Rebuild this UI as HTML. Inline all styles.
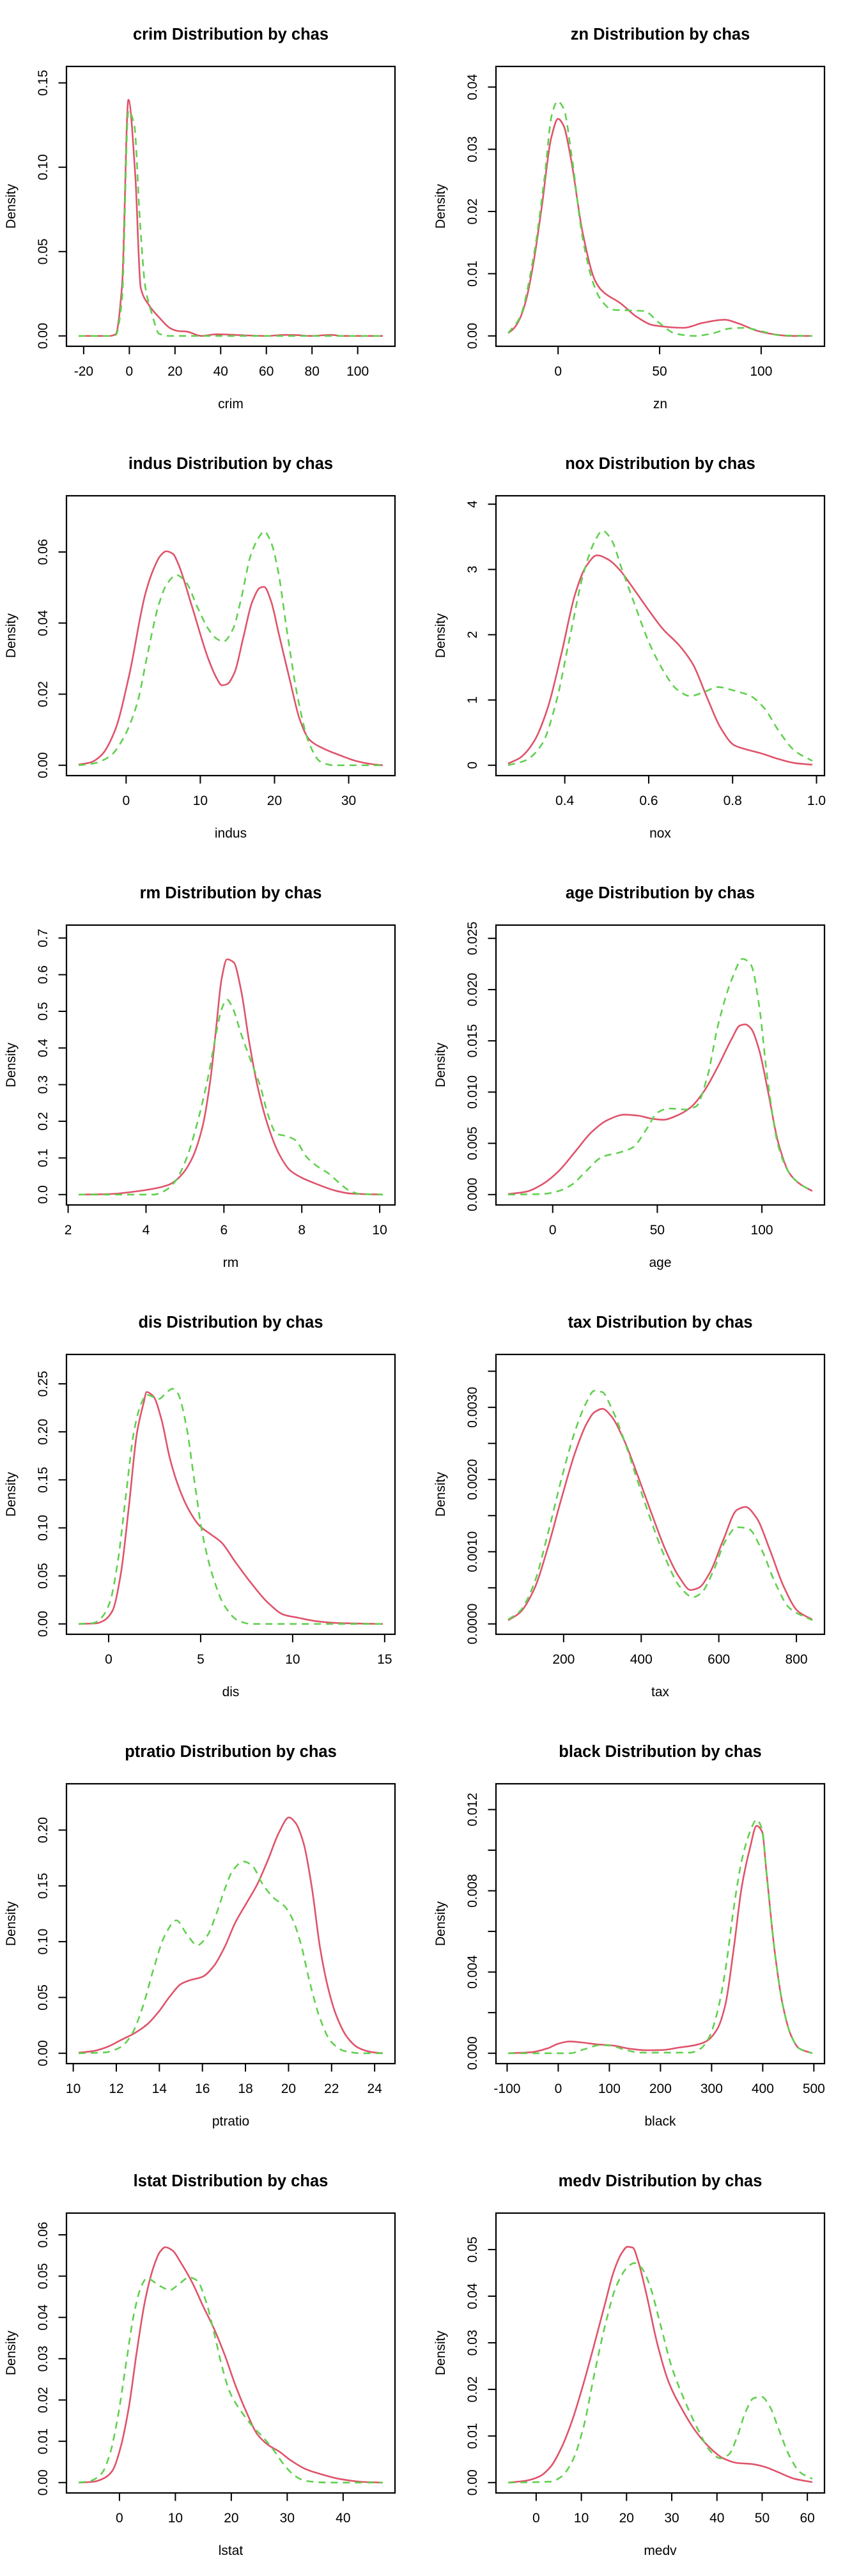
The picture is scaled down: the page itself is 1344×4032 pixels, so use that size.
<!DOCTYPE html>
<html><head><meta charset="utf-8"><title>Distributions by chas</title>
<style>html,body{margin:0;padding:0;background:#fff}svg{display:block}text{font-family:"Liberation Sans",Arial,sans-serif;fill:#000}</style>
</head><body>
<svg id="chart" xmlns="http://www.w3.org/2000/svg" width="1344" height="4032" viewBox="0 0 1344 4032"></svg>
<script>
// ---- data (x, density) ----
const crimRed=[[-22.2,0],[-8.6,0],[-6,0.001],[-3.2,0.0297],[-0.4,0.140],[2.6,0.0953],[5,0.0285],[8.2,0.019],[13,0.011],[18.4,0.0042],[21.4,0.0029],[25,0.0026],[31.6,0],[38.2,0.001],[51.4,0.0003],[60,0],[68,0.0006],[73,0.0005],[79,0],[88.6,0.0006],[93,0],[111,0]];
const crimGreen=[[-22.2,0],[-8.6,0],[-6,0.0005],[-3.2,0.022],[-0.4,0.1335],[2.2,0.1245],[4.6,0.069],[7,0.029],[10,0.0126],[13,0.0013],[17.8,0],[111,0]];
const znRed=[[-24.6,0.00044],[-21.8,0.0012],[-18.8,0.0028],[-15.5,0.0061],[-12.1,0.0118],[-8.1,0.0206],[-3.4,0.0318],[0,0.0349],[2.7,0.0338],[6.1,0.0289],[12.1,0.0166],[18.2,0.0089],[21.5,0.0073],[30.9,0.0052],[39,0.003],[47.1,0.0017],[61.9,0.0013],[71.3,0.0021],[82.1,0.0026],[88.8,0.002],[98.3,0.0008],[106.3,0.00026],[114.4,0],[125.2,0]];
const znGreen=[[-24.6,0.00044],[-18.8,0.003],[-12.1,0.0127],[-6.7,0.0254],[-3.1,0.0355],[-0.3,0.0377],[2.7,0.0366],[6.7,0.0289],[12.1,0.0157],[17.5,0.0083],[21.5,0.0056],[26.9,0.0042],[35,0.0041],[42.4,0.004],[49.8,0.0021],[57.9,0.00035],[67.3,0],[75.4,0.00035],[84.8,0.0012],[91.5,0.0013],[100.9,0.0007],[109,0.0001],[125.2,0]];
const indusRed=[[-6.4,0.0002],[-4.8,0.0008],[-3.3,0.0029],[-1.5,0.0098],[0.4,0.0252],[2.6,0.0483],[3.7,0.0552],[4.6,0.0589],[5.4,0.0602],[6.3,0.0595],[7,0.0568],[8.8,0.0452],[11.1,0.0298],[12.2,0.0245],[12.9,0.0225],[13.6,0.0228],[14.6,0.026],[15.8,0.036],[17,0.046],[18.1,0.05],[18.6,0.0502],[19.5,0.0464],[20.6,0.0368],[22.1,0.0237],[23.4,0.0129],[24.7,0.0072],[26.5,0.0048],[28.7,0.0029],[31,0.0012],[33.2,0.0003],[34.6,0]];
const indusGreen=[[-6.4,0],[-4.4,0.0005],[-2.2,0.0025],[-0.4,0.0075],[1.5,0.0175],[2.9,0.0314],[4.4,0.0452],[5.5,0.051],[6.8,0.0535],[8.1,0.0514],[9.6,0.0445],[11.1,0.0383],[12.2,0.0356],[13.1,0.0348],[14.4,0.0383],[15.5,0.0468],[16.8,0.0591],[18.1,0.0648],[18.6,0.0658],[19.5,0.0629],[20.5,0.0545],[21.7,0.0375],[23.2,0.0183],[24.7,0.006],[26.2,0.001],[28,0],[34.6,0]];
const noxRed=[[0.265,0.025],[0.294,0.117],[0.327,0.369],[0.359,0.871],[0.392,1.709],[0.425,2.63],[0.451,3.05],[0.477,3.217],[0.503,3.154],[0.529,3.007],[0.556,2.777],[0.595,2.421],[0.634,2.086],[0.673,1.835],[0.706,1.541],[0.739,1.039],[0.771,0.578],[0.804,0.306],[0.837,0.235],[0.869,0.18],[0.909,0.096],[0.948,0.034],[0.99,0.008]];
const noxGreen=[[0.265,0],[0.307,0.075],[0.346,0.327],[0.379,0.955],[0.412,1.96],[0.444,2.924],[0.471,3.426],[0.49,3.594],[0.51,3.468],[0.536,3.007],[0.569,2.421],[0.601,1.876],[0.634,1.458],[0.667,1.164],[0.699,1.06],[0.732,1.123],[0.765,1.198],[0.804,1.143],[0.843,1.06],[0.876,0.871],[0.909,0.536],[0.948,0.222],[0.99,0.067]];
const rmRed=[[2.27,0],[3.07,0.0015],[3.77,0.009],[4.33,0.019],[4.61,0.028],[4.89,0.051],[5.17,0.096],[5.45,0.185],[5.66,0.319],[5.8,0.454],[5.94,0.588],[6.08,0.642],[6.25,0.634],[6.44,0.558],[6.65,0.416],[6.86,0.297],[7.14,0.185],[7.42,0.11],[7.7,0.066],[7.98,0.047],[8.4,0.028],[8.82,0.012],[9.24,0.003],[10.08,0]];
const rmGreen=[[2.27,0],[4.19,0],[4.47,0.0097],[4.75,0.036],[5.03,0.096],[5.31,0.193],[5.59,0.319],[5.8,0.439],[5.94,0.506],[6.08,0.532],[6.22,0.51],[6.44,0.439],[6.72,0.357],[6.93,0.297],[7.14,0.215],[7.35,0.166],[7.63,0.159],[7.84,0.148],[8.12,0.103],[8.4,0.077],[8.68,0.058],[8.96,0.032],[9.24,0.0097],[9.52,0.0015],[10.08,0]];
const ageRed=[[-21.3,0.00005],[-12.9,0.00027],[-5,0.001],[2.9,0.0023],[10.8,0.0042],[18.6,0.0061],[26.5,0.0073],[34.4,0.0078],[40.9,0.0077],[47.5,0.0074],[52.8,0.0073],[59.3,0.0077],[65.9,0.0085],[72.4,0.0101],[79,0.0125],[85.6,0.0152],[89.5,0.0165],[92.1,0.0166],[94.8,0.0162],[98.7,0.0141],[102.6,0.0104],[107.9,0.005],[113.1,0.0021],[118.4,0.001],[124.1,0.00035]];
const ageGreen=[[-21.3,0],[-5,0.00005],[2.9,0.00035],[9.4,0.001],[16,0.0023],[23.9,0.0037],[31.8,0.0041],[38.3,0.0046],[44.9,0.0064],[50.1,0.008],[55.4,0.0084],[63.3,0.0083],[68.5,0.0086],[73.8,0.0114],[79,0.0165],[85.6,0.021],[90.8,0.023],[94.8,0.0224],[98.7,0.0184],[102.6,0.0114],[107.9,0.0047],[113.1,0.0021],[118.4,0.001],[124.1,0.00035]];
const disRed=[[-1.63,0],[-0.68,0.0006],[-0.24,0.0037],[0.21,0.0137],[0.65,0.0507],[1.1,0.122],[1.54,0.199],[1.9,0.23],[2.07,0.2415],[2.43,0.237],[2.87,0.213],[3.32,0.173],[3.76,0.145],[4.35,0.119],[4.95,0.102],[5.54,0.0934],[6.13,0.0849],[6.87,0.0649],[7.76,0.0421],[8.65,0.0222],[9.54,0.0094],[10.28,0.0065],[11.3,0.0028],[12.5,0.0009],[14.9,0]];
const disGreen=[[-1.63,0],[-0.83,0.0009],[-0.39,0.0065],[0.06,0.0222],[0.5,0.065],[0.95,0.136],[1.39,0.2016],[1.78,0.23],[2.07,0.2386],[2.73,0.2343],[3.17,0.2415],[3.47,0.2449],[3.76,0.24],[4.21,0.2073],[4.65,0.1503],[5.1,0.0934],[5.69,0.0478],[6.28,0.0194],[7.02,0.0037],[7.76,0],[14.9,0]];
const taxRed=[[57,0.00005],[88,0.00016],[124,0.00048],[159,0.00105],[194,0.00173],[230,0.00238],[258,0.00276],[279,0.00293],[300,0.00298],[321,0.00289],[357,0.00253],[392,0.00204],[428,0.00151],[463,0.00102],[499,0.00064],[527,0.00047],[548,0.0005],[577,0.00071],[612,0.00117],[647,0.00158],[669,0.00162],[697,0.00147],[732,0.00102],[767,0.00052],[803,0.00018],[841,0.00006]];
const taxGreen=[[57,0.00006],[88,0.00018],[124,0.00056],[159,0.00124],[194,0.002],[230,0.00268],[258,0.00306],[279,0.00323],[300,0.00321],[321,0.00302],[357,0.00253],[392,0.00196],[428,0.00139],[463,0.0009],[499,0.00052],[534,0.00037],[555,0.00043],[584,0.00071],[619,0.00117],[647,0.00134],[676,0.00132],[711,0.00102],[746,0.00056],[782,0.00022],[841,0.00005]];
const ptratioRed=[[10.25,0.0005],[10.94,0.002],[11.57,0.0056],[12.21,0.0118],[12.84,0.0179],[13.47,0.0265],[13.98,0.0375],[14.49,0.051],[15,0.062],[15.38,0.0652],[16.01,0.0686],[16.52,0.0779],[17.03,0.0951],[17.53,0.1172],[18.04,0.1343],[18.55,0.1515],[19.05,0.1735],[19.56,0.198],[20.02,0.2113],[20.32,0.2066],[20.7,0.1882],[21.08,0.149],[21.46,0.0951],[21.84,0.0583],[22.22,0.0338],[22.73,0.0142],[23.24,0.0049],[23.87,0.001],[24.38,0]];
const ptratioGreen=[[10.25,0],[11.45,0.0007],[12.21,0.0056],[12.71,0.0167],[13.22,0.0412],[13.73,0.0755],[14.24,0.1049],[14.79,0.1191],[15.25,0.1074],[15.76,0.0968],[16.21,0.1049],[16.64,0.1245],[17.03,0.1466],[17.41,0.1637],[17.91,0.1718],[18.29,0.1686],[18.8,0.1515],[19.31,0.1392],[19.81,0.1319],[20.2,0.1196],[20.58,0.0975],[20.96,0.0657],[21.46,0.0314],[21.97,0.0105],[22.6,0.002],[23.37,0],[24.38,0]];
const blackRed=[[-98,0],[-53,0.00005],[-21,0.00024],[0,0.00047],[22,0.00058],[43,0.00054],[75,0.00044],[107,0.00038],[140,0.00022],[172,0.00015],[204,0.00016],[236,0.00028],[268,0.0004],[289,0.00058],[311,0.00119],[327,0.0024],[343,0.0051],[359,0.0082],[375,0.0101],[388,0.0112],[399,0.0109],[407,0.009],[423,0.0051],[439,0.0024],[455,0.0009],[471,0.00024],[497,0]];
const blackGreen=[[-98,0],[22,0],[54,0.00022],[81,0.0004],[102,0.00038],[129,0.00018],[161,0.00003],[257,0.00003],[278,0.00022],[295,0.00078],[311,0.002],[327,0.0041],[343,0.0071],[359,0.0095],[375,0.0109],[388,0.0115],[399,0.011],[407,0.009],[423,0.0051],[439,0.0024],[455,0.0009],[471,0.00024],[497,0]];
const lstatRed=[[-7.3,0],[-4.7,0.0002],[-2.7,0.0011],[-1.3,0.0028],[0.2,0.0085],[1.7,0.0184],[3.1,0.0317],[4.6,0.0442],[6.1,0.0522],[7.2,0.0558],[8.2,0.057],[9.5,0.0562],[11,0.0532],[13,0.0485],[14.9,0.0429],[16.8,0.0376],[18.8,0.031],[20.7,0.0237],[22.7,0.0171],[24.6,0.0118],[26.6,0.0091],[28.6,0.0075],[30.5,0.0055],[33.4,0.0032],[36.4,0.0019],[39.3,0.0009],[43.2,0.0002],[47.1,0]];
const lstatGreen=[[-7.3,0],[-5.2,0.0004],[-3.2,0.0022],[-1.8,0.0065],[-0.3,0.0158],[1.2,0.029],[2.6,0.0409],[3.9,0.0475],[4.9,0.0495],[6.6,0.0482],[7.8,0.0472],[9,0.0466],[10.5,0.0479],[12.5,0.0497],[13.9,0.0489],[15.4,0.0442],[16.8,0.037],[18.3,0.0283],[19.8,0.0217],[21.7,0.0174],[23.7,0.0138],[25.6,0.0111],[27.6,0.0078],[29.5,0.0042],[31.5,0.0015],[33.4,0.0004],[37.4,0],[47.1,0]];
const medvRed=[[-6.2,0],[-2.3,0.0004],[0.7,0.0013],[3.2,0.0034],[5.6,0.0075],[8,0.0134],[10.4,0.021],[12.9,0.0298],[15.3,0.0386],[17.1,0.0451],[18.9,0.0492],[20.2,0.0506],[21.4,0.0504],[22.6,0.0474],[24.4,0.0404],[26.8,0.0298],[29.3,0.0216],[32.3,0.0157],[35.3,0.011],[38.4,0.0075],[41.4,0.0052],[44.5,0.0042],[47.5,0.004],[50.5,0.0034],[53.6,0.0022],[57.2,0.0008],[61.1,0.0001]];
const medvGreen=[[-6.2,0],[3.2,0.0002],[5.6,0.0013],[8,0.0046],[10.4,0.0116],[12.9,0.0234],[15.3,0.0339],[17.7,0.0421],[20.2,0.0462],[21.7,0.0471],[23.2,0.0462],[25,0.0427],[27.5,0.0339],[29.9,0.0251],[32.9,0.0175],[36,0.011],[38.4,0.0069],[40.8,0.0052],[42.6,0.006],[44.5,0.0099],[46.3,0.0151],[48.1,0.0181],[49.9,0.0184],[51.7,0.0163],[53.6,0.0116],[56,0.0058],[58.4,0.0022],[61.1,0.0008]];

// ---- axes: tick values and labels ----
const crimXTicks=[-20,0,20,40,60,80,100], crimYTicks=[0,0.05,0.10,0.15], crimYLabels=["0.00","0.05","0.10","0.15"];
const znXTicks=[0,50,100], znYTicks=[0,0.01,0.02,0.03,0.04], znYLabels=["0.00","0.01","0.02","0.03","0.04"];
const indusXTicks=[0,10,20,30], indusYTicks=[0,0.02,0.04,0.06], indusYLabels=["0.00","0.02","0.04","0.06"];
const noxXTicks=[0.4,0.6,0.8,1.0], noxXLabels=["0.4","0.6","0.8","1.0"], noxYTicks=[0,1,2,3,4], noxYLabels=["0","1","2","3","4"];
const rmXTicks=[2,4,6,8,10], rmYTicks=[0,0.1,0.2,0.3,0.4,0.5,0.6,0.7], rmYLabels=["0.0","0.1","0.2","0.3","0.4","0.5","0.6","0.7"];
const ageXTicks=[0,50,100], ageYTicks=[0,0.005,0.010,0.015,0.020,0.025], ageYLabels=["0.000","0.005","0.010","0.015","0.020","0.025"];
const disXTicks=[0,5,10,15], disYTicks=[0,0.05,0.10,0.15,0.20,0.25], disYLabels=["0.00","0.05","0.10","0.15","0.20","0.25"];
const taxXTicks=[200,400,600,800], taxYTicks=[0,0.0005,0.0010,0.0015,0.0020,0.0025,0.0030,0.0035], taxYLabels=["0.0000","","0.0010","","0.0020","","0.0030",""];
const ptratioXTicks=[10,12,14,16,18,20,22,24], ptratioYTicks=[0,0.05,0.10,0.15,0.20], ptratioYLabels=["0.00","0.05","0.10","0.15","0.20"];
const blackXTicks=[-100,0,100,200,300,400,500], blackYTicks=[0,0.002,0.004,0.006,0.008,0.010,0.012], blackYLabels=["0.000","","0.004","","0.008","","0.012"];
const lstatXTicks=[0,10,20,30,40], lstatYTicks=[0,0.01,0.02,0.03,0.04,0.05,0.06], lstatYLabels=["0.00","0.01","0.02","0.03","0.04","0.05","0.06"];
const medvXTicks=[0,10,20,30,40,50,60], medvYTicks=[0,0.01,0.02,0.03,0.04,0.05], medvYLabels=["0.00","0.01","0.02","0.03","0.04","0.05"];
const yMaxes=[0.1536,0.04165,0.0729,3.97,0.707,0.02528,0.2698,0.003589,0.2322,0.01276,0.06275,0.0556];

const panels=[
 {v:"crim",red:crimRed,green:crimGreen,xt:crimXTicks,yt:crimYTicks,yl:crimYLabels},
 {v:"zn",red:znRed,green:znGreen,xt:znXTicks,yt:znYTicks,yl:znYLabels},
 {v:"indus",red:indusRed,green:indusGreen,xt:indusXTicks,yt:indusYTicks,yl:indusYLabels},
 {v:"nox",red:noxRed,green:noxGreen,xt:noxXTicks,xl:noxXLabels,yt:noxYTicks,yl:noxYLabels},
 {v:"rm",red:rmRed,green:rmGreen,xt:rmXTicks,yt:rmYTicks,yl:rmYLabels},
 {v:"age",red:ageRed,green:ageGreen,xt:ageXTicks,yt:ageYTicks,yl:ageYLabels},
 {v:"dis",red:disRed,green:disGreen,xt:disXTicks,yt:disYTicks,yl:disYLabels},
 {v:"tax",red:taxRed,green:taxGreen,xt:taxXTicks,yt:taxYTicks,yl:taxYLabels},
 {v:"ptratio",red:ptratioRed,green:ptratioGreen,xt:ptratioXTicks,yt:ptratioYTicks,yl:ptratioYLabels},
 {v:"black",red:blackRed,green:blackGreen,xt:blackXTicks,yt:blackYTicks,yl:blackYLabels},
 {v:"lstat",red:lstatRed,green:lstatGreen,xt:lstatXTicks,yt:lstatYTicks,yl:lstatYLabels},
 {v:"medv",red:medvRed,green:medvGreen,xt:medvXTicks,yt:medvYTicks,yl:medvYLabels}
];

const NS="http://www.w3.org/2000/svg";
const svg=document.getElementById("chart");
function mk(tag,attrs,parent){const e=document.createElementNS(NS,tag);for(const k in attrs)e.setAttribute(k,attrs[k]);parent.appendChild(e);return e;}

function monoPath(pts){
 const n=pts.length; if(n<2)return "";
 const dx=[],m=[],t=new Array(n);
 for(let i=0;i<n-1;i++){dx[i]=pts[i+1][0]-pts[i][0];m[i]=dx[i]===0?0:(pts[i+1][1]-pts[i][1])/dx[i];}
 t[0]=m[0];t[n-1]=m[n-2];
 for(let i=1;i<n-1;i++){ if(m[i-1]*m[i]<=0)t[i]=0; else {const w1=2*dx[i]+dx[i-1],w2=dx[i]+2*dx[i-1];t[i]=(w1+w2)/(w1/m[i-1]+w2/m[i]);} }
 let d="M"+pts[0][0].toFixed(2)+","+pts[0][1].toFixed(2);
 for(let i=0;i<n-1;i++){const h=dx[i]/3;
  d+="C"+(pts[i][0]+h).toFixed(2)+","+(pts[i][1]+t[i]*h).toFixed(2)+" "+(pts[i+1][0]-h).toFixed(2)+","+(pts[i+1][1]-t[i+1]*h).toFixed(2)+" "+pts[i+1][0].toFixed(2)+","+pts[i+1][1].toFixed(2);}
 return d;
}

const BL=104,BR=618,BT=104,BB=542;
panels.forEach((p,idx)=>{
 const ox=(idx%2)*672, oy=Math.floor(idx/2)*672;
 const g=mk("g",{transform:`translate(${ox},${oy})`},svg);
 
 
 const all=p.red.concat(p.green);
 const xmin=Math.min(...all.map(a=>a[0])), xmax=Math.max(...all.map(a=>a[0]));
 const r=xmax-xmin, x0=xmin-0.04*r, x1=xmax+0.04*r;
 const ym=yMaxes[idx], y0=-0.04*ym, y1=ym*1.04;
 const X=v=>BL+(v-x0)/(x1-x0)*(BR-BL);
 const Y=v=>BB-(v-y0)/(y1-y0)*(BB-BT);

 const title=mk("text",{x:361,y:62,"text-anchor":"middle","font-size":"25.5","font-weight":"bold"},g);
 title.textContent=p.v+" Distribution by chas";
 
 

 const box=mk("rect",{x:BL,y:BT,width:BR-BL,height:BB-BT,fill:"none",stroke:"#000","stroke-width":"2.2"},g);
 
 

 // x axis
 const xa=mk("g",{},g);
 
 
 mk("line",{x1:X(p.xt[0]),x2:X(p.xt[p.xt.length-1]),y1:BB,y2:BB,stroke:"#000","stroke-width":"2"},xa);
 p.xt.forEach((v,i)=>{
  const tk=mk("line",{x1:X(v),x2:X(v),y1:BB,y2:BB+12.5,stroke:"#000","stroke-width":"2"},xa);
  
  
  const t=mk("text",{x:X(v),y:588,"text-anchor":"middle","font-size":"21"},xa);
  t.textContent=p.xl?p.xl[i]:String(v);
  
  
 });
 const xt=mk("text",{x:361,y:639,"text-anchor":"middle","font-size":"21"},g);
 xt.textContent=p.v;
 
 

 // y axis
 const ya=mk("g",{},g);
 
 
 mk("line",{x1:BL,x2:BL,y1:Y(p.yt[0]),y2:Y(p.yt[p.yt.length-1]),stroke:"#000","stroke-width":"2"},ya);
 p.yt.forEach((v,i)=>{
  const tk=mk("line",{x1:BL-12.5,x2:BL,y1:Y(v),y2:Y(v),stroke:"#000","stroke-width":"2"},ya);
  
  
  if(p.yl[i]){
   const t=mk("text",{x:0,y:0,"text-anchor":"middle","font-size":"21",transform:`translate(74,${Y(v)}) rotate(-90)`},ya);
   t.textContent=p.yl[i];
   
   
  }
 });
 const yt=mk("text",{x:0,y:0,"text-anchor":"middle","font-size":"21",transform:`translate(24,323) rotate(-90)`},g);
 yt.textContent="Density";
 
 

 // curves
 const rp=mk("path",{d:monoPath(p.red.map(a=>[X(a[0]),Y(a[1])])),fill:"none",stroke:"#DF536B","stroke-width":"2.6","stroke-linejoin":"round"},g);
 
 
 const gp=mk("path",{d:monoPath(p.green.map(a=>[X(a[0]),Y(a[1])])),fill:"none",stroke:"#61D04F","stroke-width":"2.6","stroke-dasharray":"11 8"},g);
 
 
});
</script>
</body></html>
